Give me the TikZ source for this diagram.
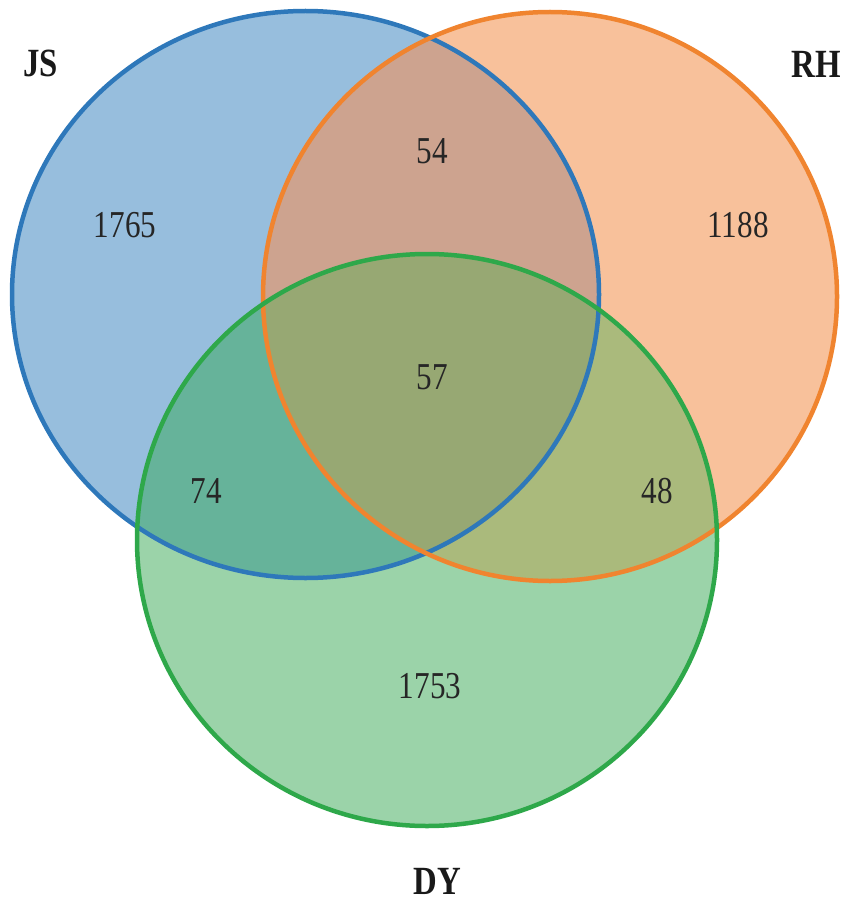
\documentclass[tikz,border=0pt]{standalone}
\usepackage{fontspec}
\setmainfont{Liberation Serif}
\usepackage{graphicx}
\definecolor{jsonly}{HTML}{97BEDD}
\definecolor{rhonly}{HTML}{F8C19B}
\definecolor{dyonly}{HTML}{9BD3A9}
\definecolor{jsrh}{HTML}{CDA38F}
\definecolor{jsdy}{HTML}{66B39A}
\definecolor{rhdy}{HTML}{AABA7C}
\definecolor{allthree}{HTML}{97A873}
\definecolor{jsline}{HTML}{2E78BA}
\definecolor{rhline}{HTML}{F0842F}
\definecolor{dyline}{HTML}{2EA84A}
\tikzset{
  num/.style={inner sep=0pt, text=black!85, font=\fontsize{38}{40}\selectfont},
  setlabel/.style={inner sep=0pt, text=black!90, font=\fontsize{40}{44}\selectfont\bfseries},
  ring/.style={line width=4.5pt}
}
\newcommand{\sq}[1]{\scalebox{0.82}[1]{#1}}
\newcommand{\jsshape}{(305.5,294.5) ellipse [x radius=293.5, y radius=283.5]}
\newcommand{\rhshape}{(550,296.5) ellipse [x radius=287, y radius=284.5]}
\newcommand{\dyshape}{(427,540) ellipse [x radius=290, y radius=286]}
\begin{document}
\begin{tikzpicture}[x=1pt,y=-1pt]
\useasboundingbox (0,0) rectangle (851,904);
\fill[white] (0,0) rectangle (851,904);
% single regions
\fill[jsonly] \jsshape;
\fill[rhonly] \rhshape;
\fill[dyonly] \dyshape;
% pairwise
\begin{scope}
  \clip \jsshape;
  \fill[jsrh] \rhshape;
\end{scope}
\begin{scope}
  \clip \jsshape;
  \fill[jsdy] \dyshape;
\end{scope}
\begin{scope}
  \clip \rhshape;
  \fill[rhdy] \dyshape;
\end{scope}
\begin{scope}
  \clip \jsshape;
  \clip \rhshape;
  \fill[allthree] \dyshape;
\end{scope}
% outlines
\draw[ring, jsline] \jsshape;
\draw[ring, rhline] \rhshape;
\draw[ring, dyline] \dyshape;
% labels
\node[setlabel] (js) at (40.5,63) {\sq{JS}};
\node[setlabel] (rh) at (816,64) {\sq{RH}};
\node[setlabel] (dy) at (437,881) {\sq{DY}};
% numbers
\node[num] (n1765) at (125,225) {\sq{1765}};
\node[num] (n1188) at (738,225) {\sq{1188}};
\node[num] (n54) at (432,151) {\sq{54}};
\node[num] (n57) at (432,377) {\sq{57}};
\node[num] (n74) at (206,491) {\sq{74}};
\node[num] (n48) at (657,491) {\sq{48}};
\node[num] (n1753) at (430,686) {\sq{1753}};
\end{tikzpicture}
\end{document}
